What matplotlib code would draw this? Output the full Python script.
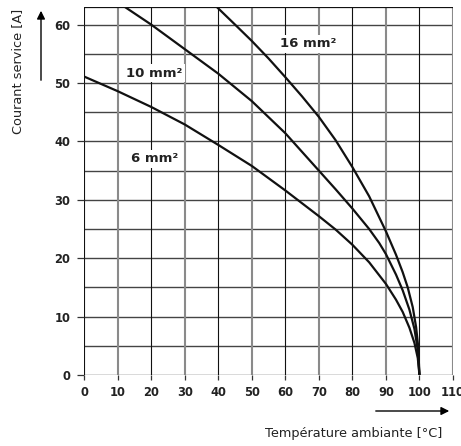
import matplotlib
matplotlib.use("Agg")
import matplotlib.pyplot as plt
from matplotlib.patches import FancyArrowPatch

# Derating curves: operating current vs. ambient temperature per conductor cross-section
temp_6 = [0, 10, 20, 30, 40, 50, 60, 70, 75, 80, 85, 90, 93, 95, 97, 98.5, 99.5, 100]
amp_6 = [51.1, 48.6, 45.9, 42.9, 39.4, 35.8, 31.6, 27.2, 24.9, 22.3, 19.3, 15.6, 12.9, 10.8, 8.1, 5.5, 2.9, 0.0]

temp_10 = [12.2, 20, 30, 40, 50, 60, 70, 75, 80, 85, 88, 90, 93, 95, 97, 98.5, 99.5, 100]
amp_10 = [63.0, 60.0, 55.8, 51.6, 46.9, 41.4, 35.0, 31.8, 28.5, 25.0, 22.6, 20.7, 17.2, 14.5, 11.2, 7.9, 4.3, 0.0]

temp_16 = [39.6, 45, 50, 55, 60, 65, 70, 75, 80, 85, 90, 93, 95, 96.5, 98, 99, 99.6, 100]
amp_16 = [63.0, 60.0, 57.2, 54.2, 51.0, 47.7, 44.2, 40.2, 35.6, 30.6, 24.6, 20.6, 17.6, 15.0, 11.6, 8.2, 5.0, 0.0]

curve_labels = ["6 mm²", "10 mm²", "16 mm²"]
label_pos = [(21.2, 37.0), (20.9, 51.7), (66.7, 56.7)]

x_ticks = [0, 10, 20, 30, 40, 50, 60, 70, 80, 90, 100, 110]
y_ticks = [0, 10, 20, 30, 40, 50, 60]
y_grid = [0, 5, 10, 15, 20, 25, 30, 35, 40, 45, 50, 55, 60]

plt.rcParams['font.family'] = ['DejaVu Sans']

fig = plt.figure(figsize=(4.61, 4.46), dpi=100)
ax = fig.add_axes([84 / 461, 1 - 375 / 446, (453 - 84) / 461, (375 - 7) / 446])
ax.set_xlim(0, 110)
ax.set_ylim(0, 63)

# Grid: horizontal every 5 A, vertical alternating black / grey every 10 °C
for yv in y_grid:
    ax.axhline(yv, color='#444444', lw=1.0, zorder=1)
for xv in x_ticks:
    if (xv // 10) % 2 == 0:
        ax.axvline(xv, color='#111111', lw=0.8, zorder=1.2)
    else:
        ax.axvline(xv, color='#8a8a8a', lw=1.5, zorder=1.1)

for s in ax.spines.values():
    s.set_visible(False)
ax.axhline(63, color='#111111', lw=0.9, zorder=1.3)

for xs, ys in [(temp_6, amp_6), (temp_10, amp_10), (temp_16, amp_16)]:
    ax.plot(xs, ys, color='#111111', lw=1.6, zorder=4,
            solid_joinstyle='round', solid_capstyle='butt')

for txt, (lx, ly) in zip(curve_labels, label_pos):
    ax.text(lx, ly, txt, ha='center', va='center', fontsize=9.5, fontweight='bold',
            color='#222222', zorder=3,
            bbox=dict(facecolor='white', edgecolor='none', pad=2.0))

ax.set_xticks(x_ticks)
ax.set_yticks(y_ticks)
ax.set_xticklabels([str(v) for v in x_ticks], fontsize=8.3, fontweight='bold', color='#222222')
ax.set_yticklabels([str(v) for v in y_ticks], fontsize=8.3, fontweight='bold', color='#222222')
ax.tick_params(axis='x', length=3.6, width=0.9, pad=4.5, color='#333333')
ax.tick_params(axis='y', length=5, width=0.9, pad=5, color='#333333')
for t, xv in zip(ax.xaxis.get_major_ticks(), x_ticks):
    t.tick1line.set_color('#111111' if (xv // 10) % 2 == 0 else '#8a8a8a')

# Axis titles with direction arrows
fig.text(18 / 461, 1 - 71 / 446, "Courant service [A]", rotation=90, ha='center', va='center',
         fontsize=9.3, color='#222222')
fig.text(354 / 461, 1 - 433 / 446, "Température ambiante [°C]", ha='center', va='center',
         fontsize=9.3, color='#222222')

fig.add_artist(FancyArrowPatch((41 / 461, 1 - 83 / 446), (41 / 461, 1 - 8 / 446),
                               transform=fig.transFigure, arrowstyle='-|>',
                               mutation_scale=12, lw=1.0, color='black'))
fig.add_artist(FancyArrowPatch((373 / 461, 1 - 411 / 446), (452 / 461, 1 - 411 / 446),
                               transform=fig.transFigure, arrowstyle='-|>',
                               mutation_scale=12, lw=1.0, color='black'))

fig.savefig("out.png", dpi=100)
